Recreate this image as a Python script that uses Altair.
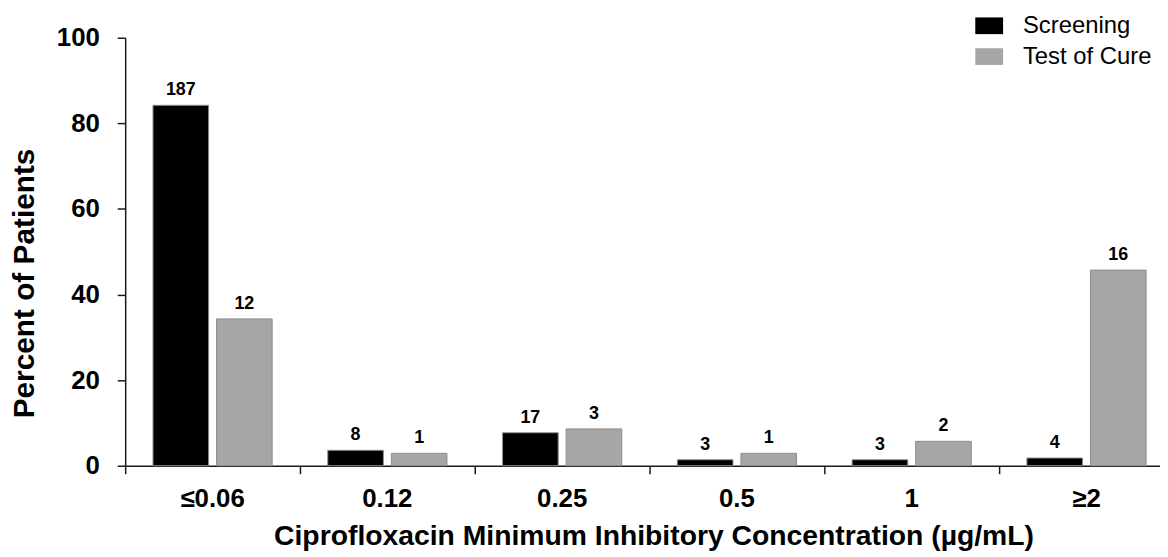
import altair as alt
import pandas as pd

categories = ["≤0.06", "0.12", "0.25", "0.5", "1", "≥2"]
groups = ["Screening", "Test of Cure"]
screening_pct = [84.2, 3.6, 7.7, 1.4, 1.4, 1.8]
cure_pct = [34.3, 2.9, 8.6, 2.9, 5.7, 45.7]
screening_n = [187, 8, 17, 3, 3, 4]
cure_n = [12, 1, 3, 1, 2, 16]

rows = []
for c, p, n in zip(categories, screening_pct, screening_n):
    rows.append({"mic": c, "group": groups[0], "pct": p, "n": n})
for c, p, n in zip(categories, cure_pct, cure_n):
    rows.append({"mic": c, "group": groups[1], "pct": p, "n": n})
df = pd.DataFrame(rows)

FONT = "Liberation Sans"

base = alt.Chart(df).encode(
    x=alt.X(
        "mic:N",
        sort=categories,
        scale=alt.Scale(range=[0, 1056], paddingInner=0, paddingOuter=0),
        axis=alt.Axis(
            title="Ciprofloxacin Minimum Inhibitory Concentration (µg/mL)",
            bandPosition=0,
            labelAngle=0,
            labelFontSize=26,
            labelFontWeight="bold",
            labelPadding=12,
            tickSize=8,
            titleFontSize=28.5,
            titleFontWeight="bold",
            titleBaseline="alphabetic",
            titleX=532,
            titleY=79,
        ),
    ),
    xOffset=alt.XOffset(
        "group:N",
        sort=groups,
        scale=alt.Scale(paddingInner=0.125, paddingOuter=0.4375),
    ),
    y=alt.Y(
        "pct:Q",
        scale=alt.Scale(domain=[0, 100]),
        axis=alt.Axis(
            title="Percent of Patients",
            values=[0, 20, 40, 60, 80, 100],
            grid=False,
            labelFontSize=26,
            labelFontWeight="bold",
            labelPadding=18,
            tickSize=8,
            titleFontSize=30,
            titleFontWeight="bold",
            titleX=-86,
            titleY=247,
        ),
    ),
)

bars = base.mark_bar(stroke="#8c8c8c", strokeWidth=1).encode(
    color=alt.Color(
        "group:N",
        sort=groups,
        scale=alt.Scale(domain=groups, range=["#000000", "#a6a6a6"]),
        legend=alt.Legend(
            title=None,
            orient="none",
            legendX=856,
            legendY=-26,
            symbolType="M-1,-0.6H1V0.6H-1Z",
            symbolSize=784,
            symbolStrokeWidth=0,
            labelFontSize=24,
            labelFont=FONT,
            labelOffset=20,
            rowPadding=5,
        ),
    )
)

labels = base.mark_text(
    dy=-10, baseline="alphabetic", fontSize=18, fontWeight="bold", font=FONT, color="#000000"
).encode(text="n:Q")

chart = (
    alt.layer(bars, labels)
    .properties(
        width=1042,
        height=431,
        autosize=alt.AutoSizeParams(type="none"),
        padding={"left": 118, "top": 28, "right": 0, "bottom": 90},
    )
    .configure_view(stroke=None)
    .configure_axis(
        labelFont=FONT,
        titleFont=FONT,
        labelColor="#000000",
        titleColor="#000000",
        domainColor="#1a1a1a",
        domainWidth=1.5,
        tickColor="#1a1a1a",
        tickWidth=1.5,
    )
    .configure_legend(labelColor="#000000")
)

chart.save("out.html", embed_options={"renderer": "svg", "actions": False})
